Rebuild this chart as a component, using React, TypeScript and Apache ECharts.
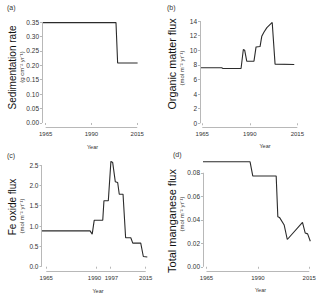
import React, { useEffect, useRef } from "react";
import * as echarts from "echarts";

// (a) Sedimentation rate
const sedYears = [1963.0, 2003.4, 2004.3, 2015.2];
const sedVals = [0.348, 0.348, 0.208, 0.208];
const sedTicks = [0, 0.05, 0.1, 0.15, 0.2, 0.25, 0.3, 0.35];

// (b) Organic matter flux
const omYears = [1963.8, 1975.2, 1975.9, 1985.4, 1986.6, 1987.3, 1988.4, 1992.2, 1993.3, 1995.4, 1996.3, 1997.5, 1999.0, 2001.8, 2003.3, 2013.4];
const omVals = [7.6, 7.6, 7.5, 7.5, 10.1, 10.0, 8.5, 8.5, 10.45, 10.5, 11.9, 12.5, 13.1, 13.8, 8.1, 8.05];
const omTicks = [0, 2, 4, 6, 8, 10, 12, 14];

// (c) Fe oxide flux
const feYears = [1962.6, 1987.0, 1988.1, 1989.1, 1993.4, 1994.0, 1996.2, 1997.5, 1998.4, 1999.7, 2000.9, 2001.7, 2003.6, 2004.9, 2007.5, 2008.5, 2012.5, 2013.8, 2015.8];
const feVals = [0.88, 0.88, 0.8, 1.14, 1.14, 1.62, 1.62, 2.59, 2.56, 2.09, 2.07, 1.78, 1.78, 0.71, 0.71, 0.58, 0.58, 0.25, 0.24];
const feTicks = [0, 0.5, 1, 1.5, 2, 2.5];

// (d) Total manganese flux
const mnYears = [1963.3, 1986.2, 1987.5, 1998.9, 1999.7, 2000.5, 2002.8, 2004.3, 2011.7, 2013.0, 2014.2, 2015.5];
const mnVals = [0.0893, 0.0893, 0.0773, 0.0773, 0.0426, 0.042, 0.0355, 0.0232, 0.0378, 0.0288, 0.028, 0.0217];
const mnTicks = [0, 0.02, 0.04, 0.06, 0.08];

const yearTicksStd = [1965, 1990, 2015];
const yearTicksFe = [1965, 1990, 1997, 2015];

const AX = "#b8b8b8";
const TXT = "#333";
const LINE = "#2b2b2b";
const FONT = "Liberation Sans, Arial, sans-serif";

type Panel = {
  years: number[];
  vals: number[];
  yTicks: number[];
  xTicks: number[];
  xMin: number;
  xMax: number;
  yMin: number;
  yMax: number;
  digits: number;
  grid: { left: number; top: number; width: number; height: number };
};

const panels: Panel[] = [
  { years: sedYears, vals: sedVals, yTicks: sedTicks, xTicks: yearTicksStd, xMin: 1963.0, xMax: 2015.2, yMin: -0.015, yMax: 0.35, digits: 2, grid: { left: 42, top: 22, width: 95.6, height: 105.3 } },
  { years: omYears, vals: omVals, yTicks: omTicks, xTicks: yearTicksStd, xMin: 1963.8, xMax: 2015, yMin: -0.55, yMax: 14, digits: 0, grid: { left: 200, top: 21, width: 97.3, height: 106.3 } },
  { years: feYears, vals: feVals, yTicks: feTicks, xTicks: yearTicksFe, xMin: 1962.6, xMax: 2016, yMin: -0.106, yMax: 2.65, digits: 1, grid: { left: 41.5, top: 158.9, width: 106.2, height: 112.1 } },
  { years: mnYears, vals: mnVals, yTicks: mnTicks, xTicks: yearTicksStd, xMin: 1963.3, xMax: 2015.4, yMin: -0.0036, yMax: 0.09, digits: 2, grid: { left: 203, top: 161, width: 107.1, height: 110 } },
];

const yTitles = [
  { main: "Sedimentation rate", sub: "(g cm⁻² yr⁻¹)", mx: 12, my: 67.5, ms: 10, sx: 22, sy: 67 },
  { main: "Organic matter flux", sub: "(mol m⁻² yr⁻¹)", mx: 172, my: 64, ms: 10.8, sx: 181.5, sy: 68 },
  { main: "Fe oxide flux", sub: "(mol m⁻² yr⁻¹)", mx: 12, my: 207, ms: 10, sx: 22, sy: 216 },
  { main: "Total manganese flux", sub: "(mol m⁻² yr⁻¹)", mx: 172, my: 221, ms: 11, sx: 181.5, sy: 214 },
];

const panelLabels = [
  { t: "(a)", x: 7, y: 7.5 },
  { t: "(b)", x: 167, y: 7.5 },
  { t: "(c)", x: 7, y: 155 },
  { t: "(d)", x: 173, y: 154 },
];

const yearLabels = [
  { x: 92.5, y: 146.5 },
  { x: 265, y: 146 },
  { x: 98, y: 290.5 },
  { x: 260.5, y: 290 },
];

export default function App() {
  const ref = useRef<HTMLDivElement>(null);
  useEffect(() => {
    document.body.style.margin = "0";
    const chart = echarts.init(ref.current!, null, { renderer: "svg" });
    const option: any = {
      animation: false,
      backgroundColor: "#fff",
      grid: panels.map((p) => ({ ...p.grid, containLabel: false })),
      xAxis: panels.map((p, i) => ({
        type: "value",
        gridIndex: i,
        min: p.xMin,
        max: p.xMax,
        axisLine: { show: false },
        splitLine: { show: false },
        axisTick: { show: true, length: 2, customValues: p.xTicks, lineStyle: { color: AX } },
        axisLabel: {
          customValues: p.xTicks,
          color: TXT,
          fontSize: 6,
          fontFamily: FONT,
          margin: 3.5,
          formatter: (v: number) => {
            const y = Math.round(v);
            if (i === 2 && y === 1990) return `{l|${y}}`;
            if (i === 2 && y === 1997) return `{r|${y}}`;
            return String(y);
          },
          rich: {
            l: { fontSize: 6, fontFamily: FONT, color: TXT, padding: [0, 3, 0, 0] },
            r: { fontSize: 6, fontFamily: FONT, color: TXT, padding: [0, 0, 0, 3] },
          },
        },
      })),
      yAxis: panels.map((p, i) => ({
        type: "value",
        gridIndex: i,
        min: p.yMin,
        max: p.yMax,
        axisLine: { show: false },
        splitLine: { show: false },
        axisTick: { show: true, length: 2, customValues: p.yTicks, lineStyle: { color: AX } },
        axisLabel: { customValues: p.yTicks, color: TXT, fontSize: 6.5, fontFamily: FONT, margin: 3, formatter: (v: number) => v.toFixed(p.digits) },
      })),
      series: panels.map((p, i) => ({
        type: "line",
        xAxisIndex: i,
        yAxisIndex: i,
        data: p.years.map((y, k) => [y, p.vals[k]]),
        showSymbol: false,
        symbol: "none",
        clip: false,
        lineStyle: { color: LINE, width: 1.1 },
        silent: true,
        markLine: {
          silent: true,
          symbol: "none",
          label: { show: false },
          lineStyle: { color: AX, width: 1, type: "solid" },
          data: [
            [{ coord: [p.xMin, p.yTicks[0]] }, { coord: [p.xMin, p.yTicks[p.yTicks.length - 1]] }],
            [{ coord: [p.xTicks[0], p.yMin] }, { coord: [p.xTicks[p.xTicks.length - 1], p.yMin] }],
          ],
        },
      })),
      graphic: [
        ...panelLabels.map((l) => ({ type: "text", x: l.x, y: l.y, style: { text: l.t, fill: TXT, font: `7px ${FONT}`, textAlign: "left", textVerticalAlign: "middle" } })),
        ...yearLabels.map((l) => ({ type: "text", x: l.x, y: l.y, style: { text: "Year", fill: TXT, font: `5.5px ${FONT}`, textAlign: "center", textVerticalAlign: "middle" } })),
        ...yTitles.flatMap((t) => [
          { type: "text", x: t.mx, y: t.my, rotation: Math.PI / 2, style: { text: t.main, fill: "#111", font: `${t.ms}px ${FONT}`, textAlign: "center", textVerticalAlign: "middle" } },
          { type: "text", x: t.sx, y: t.sy, rotation: Math.PI / 2, style: { text: t.sub, fill: TXT, font: `6px ${FONT}`, textAlign: "center", textVerticalAlign: "middle" } },
        ]),
      ],
    };
    chart.setOption(option);
    return () => chart.dispose();
  }, []);
  return <div ref={ref} style={{ width: 320, height: 296, position: "absolute", left: 0, top: 0 }} />;
}
